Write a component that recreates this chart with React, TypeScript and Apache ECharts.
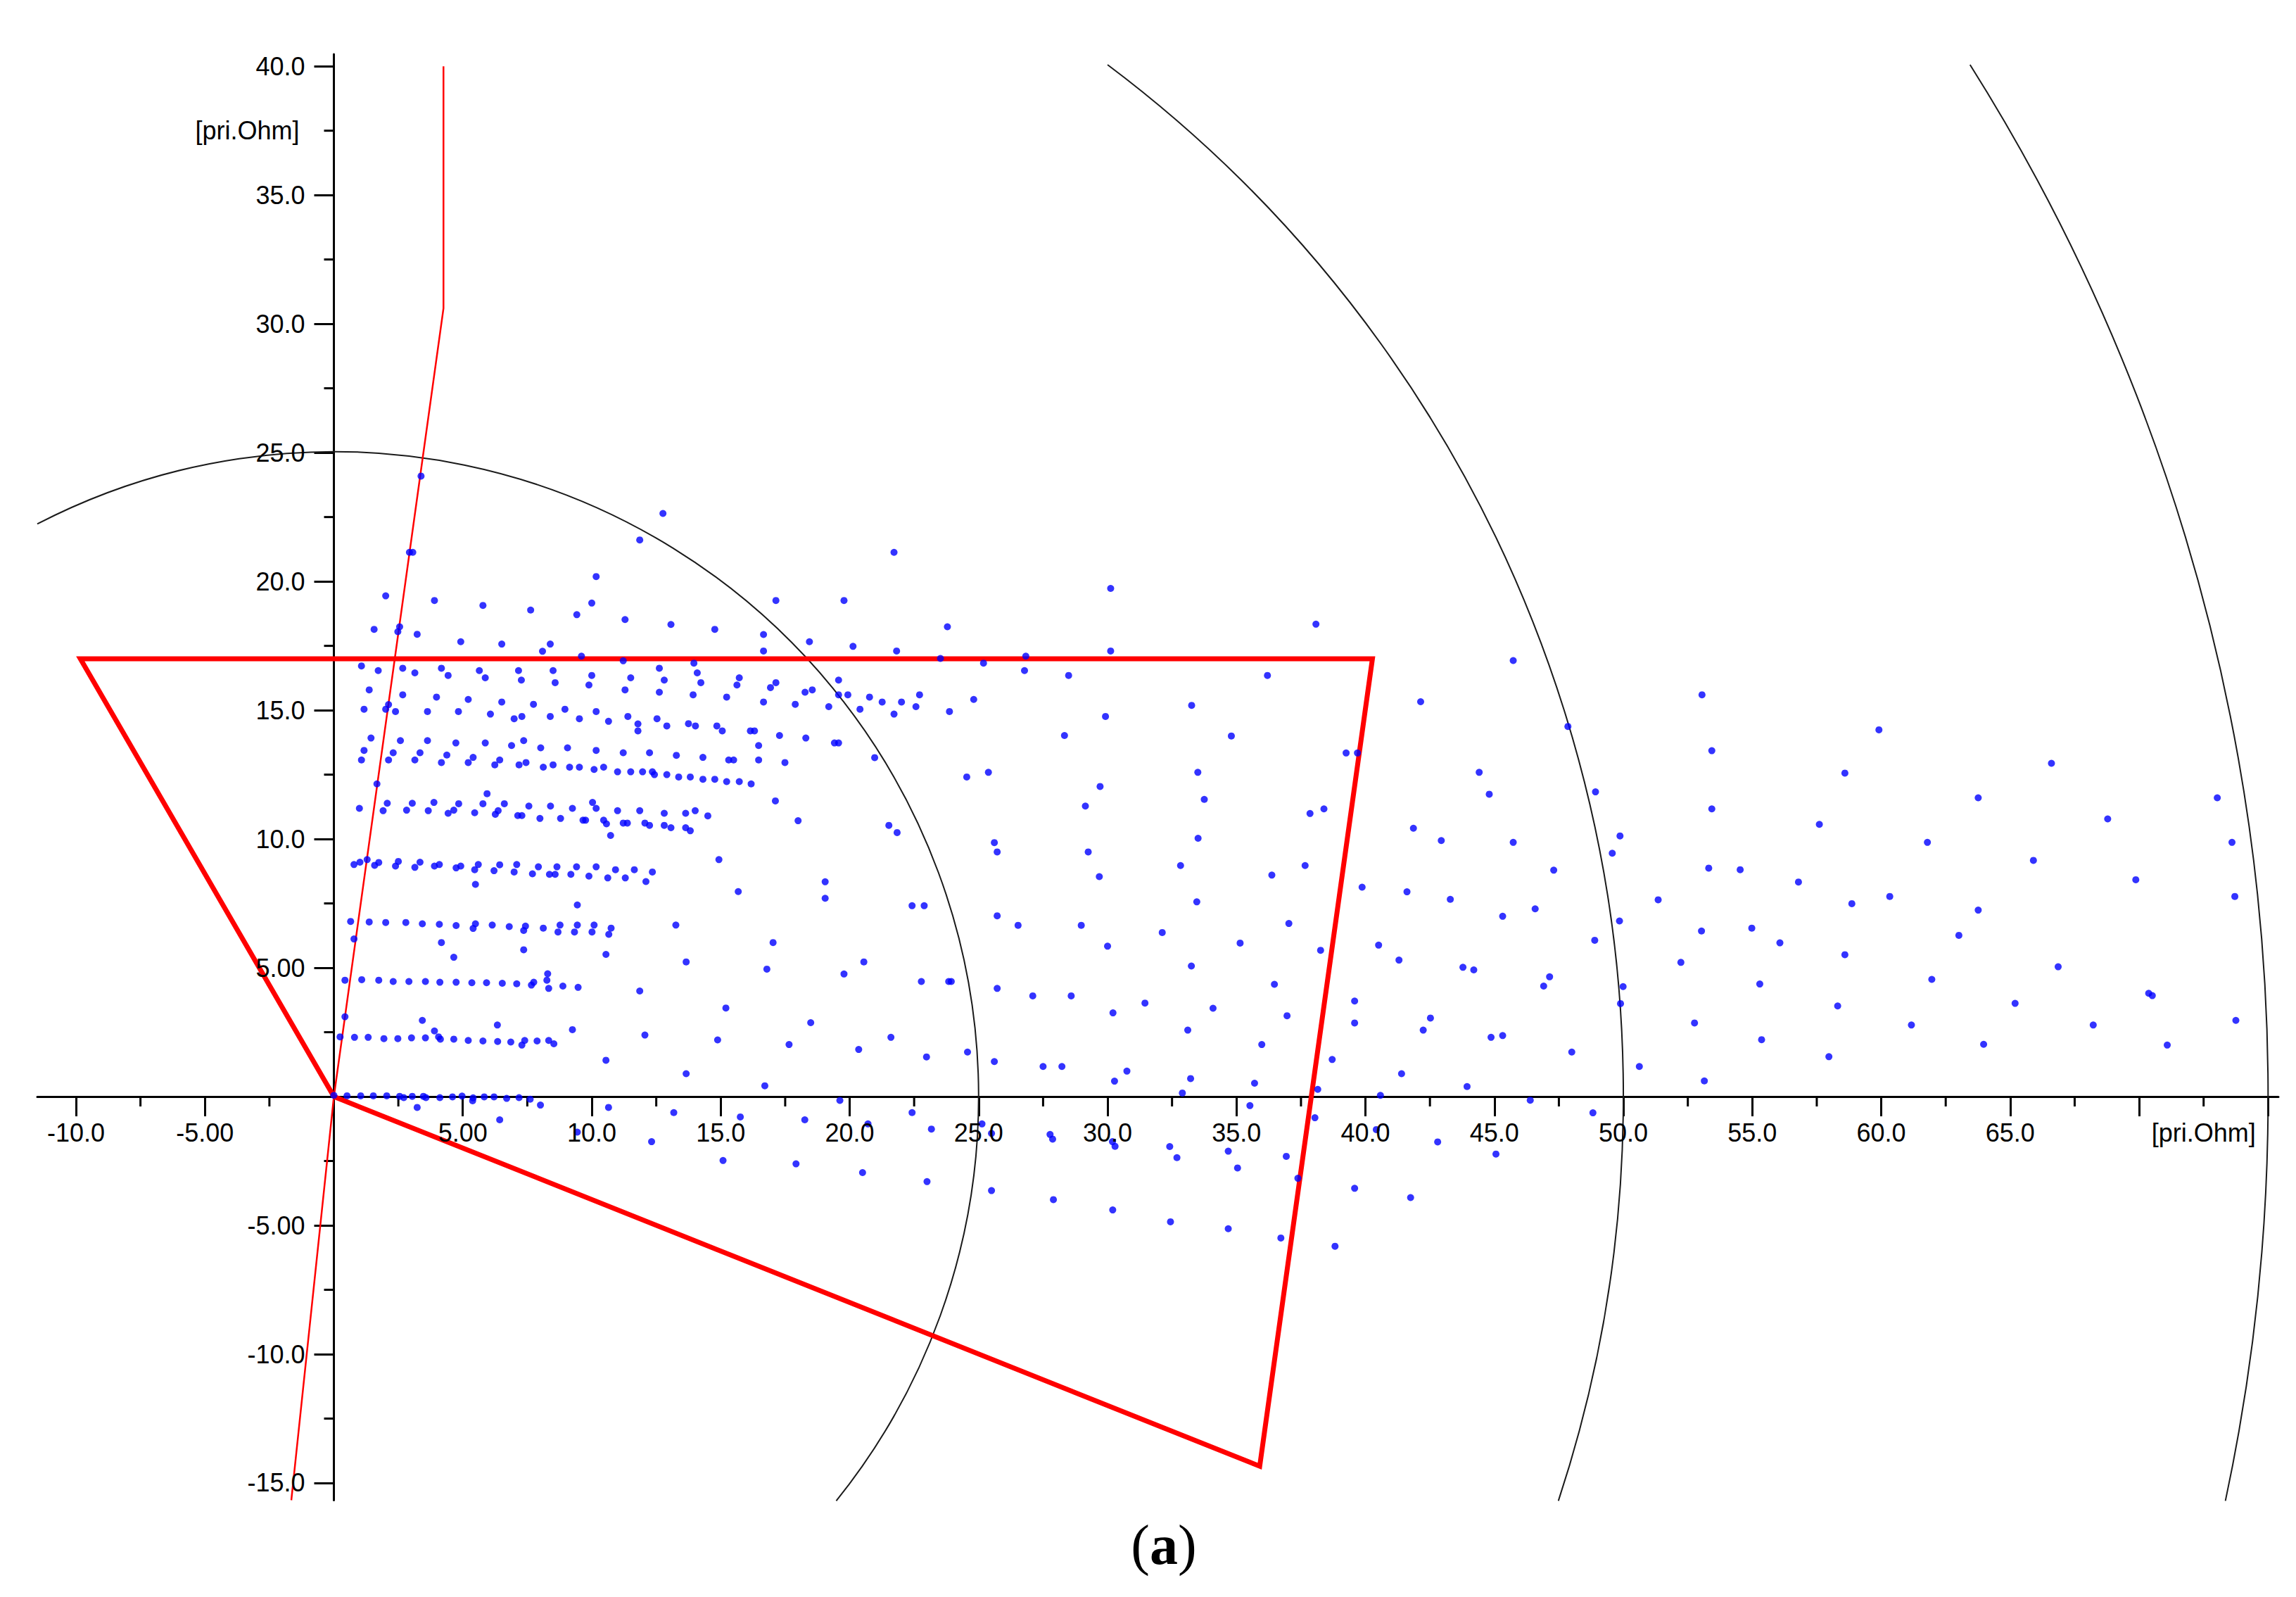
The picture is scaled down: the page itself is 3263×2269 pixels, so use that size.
import React, { useEffect, useRef } from "react";
import * as echarts from "echarts";

// ---- axis ticks / labels ----
const xMajorTicks = [-10, -5, 5, 10, 15, 20, 25, 30, 35, 40, 45, 50, 55, 60, 65, 70, 75];
const xMinorTicks = [-7.5, -2.5, 2.5, 7.5, 12.5, 17.5, 22.5, 27.5, 32.5, 37.5, 42.5, 47.5, 52.5, 57.5, 62.5, 67.5, 72.5];
const xLabelValues = [-10, -5, 5, 10, 15, 20, 25, 30, 35, 40, 45, 50, 55, 60, 65, 72.5];
const yMajorTicks = [-15, -10, -5, 5, 10, 15, 20, 25, 30, 35, 40];
const yMinorTicks = [-12.5, -7.5, -2.5, 2.5, 7.5, 12.5, 17.5, 22.5, 27.5, 32.5, 37.5];
const yLabelValues = [-15, -10, -5, 5, 10, 15, 20, 25, 30, 35, 37.5, 40];
const unitLabel = "[pri.Ohm]";
const captionText = "a";

// ---- characteristic shapes ----
const circleRadii = [25, 50, 75];
const zonePolygon = [[0, 0], [-9.83, 17.0], [40.27, 17.0], [35.9, -14.35], [0, 0]];
const loadLine = [[-1.65, -15.67], [0, 0], [4.25, 30.6], [4.25, 40.0]];

// ---- measured impedance points (R, X) ----
const rowZero = [[0.0,0.05],[0.51,0.03],[1.04,0.03],[1.53,0.03],[2.05,0.03],[2.55,0.01],[2.71,-0.04],[3.04,0.01],[3.47,0.01],[3.57,-0.04],[4.11,-0.04],[4.6,-0.01],[4.97,0.02],[5.4,-0.05],[5.38,-0.16],[5.83,-0.01],[6.21,-0.01],[6.7,-0.07],[7.18,-0.04],[7.61,-0.1],[8.01,-0.33],[3.23,-0.42],[6.43,-0.9]];
const rowTwo = [[0.24,2.32],[0.8,2.3],[1.33,2.3],[1.94,2.25],[2.48,2.25],[3.01,2.28],[3.55,2.28],[3.9,2.55],[4.06,2.32],[4.13,2.23],[4.65,2.23],[5.21,2.18],[5.78,2.16],[6.35,2.14],[6.86,2.12],[7.29,2.0],[7.4,2.18],[7.88,2.16],[8.33,2.18],[8.53,2.05],[0.43,3.1],[3.43,2.96],[6.34,2.78],[9.25,2.6]];
const rowFour = [[0.43,4.52],[1.08,4.54],[1.74,4.52],[2.3,4.47],[2.91,4.47],[3.55,4.47],[4.11,4.44],[4.74,4.44],[5.35,4.42],[5.92,4.42],[6.53,4.4],[7.09,4.38],[7.66,4.33],[7.75,4.44],[8.29,4.77],[8.26,4.52],[8.33,4.2],[8.88,4.29],[9.47,4.24]];
const rowSeven = [[0.65,6.8],[1.37,6.78],[2.01,6.76],[2.79,6.76],[3.43,6.71],[4.09,6.69],[4.74,6.64],[5.49,6.71],[5.4,6.53],[6.14,6.66],[6.8,6.6],[7.43,6.62],[7.36,6.45],[8.12,6.54],[8.77,6.66],[8.69,6.39],[9.44,6.66],[9.33,6.39],[10.09,6.66],[10.01,6.39],[10.75,6.54],[10.66,6.3],[0.78,6.12],[4.17,5.98],[4.65,5.41],[7.36,5.7],[10.55,5.52]];
const rowNine = [[0.78,9.01],[1.01,9.1],[1.29,9.2],[1.58,8.98],[1.74,9.09],[2.39,8.95],[2.5,9.13],[3.14,8.9],[3.34,9.1],[3.9,8.95],[4.09,9.01],[4.74,8.88],[4.92,8.95],[5.46,8.81],[5.6,9.01],[5.49,8.24],[6.21,8.77],[6.43,9.0],[6.99,8.72],[7.09,9.01],[7.7,8.65],[7.93,8.92],[8.36,8.63],[8.58,8.63],[8.65,8.92],[9.19,8.63],[9.41,8.92],[9.89,8.56],[10.17,8.92],[10.62,8.49],[10.92,8.81],[11.3,8.49],[11.65,8.81],[12.1,8.35],[12.35,8.72],[9.44,7.44]];
const rowEleven = [[0.99,11.19],[1.91,11.1],[2.07,11.39],[2.82,11.12],[3.04,11.39],[3.66,11.1],[3.88,11.42],[4.43,11.0],[4.65,11.12],[4.84,11.37],[5.46,11.02],[5.78,11.37],[6.26,10.96],[6.37,11.1],[6.61,11.37],[7.13,10.91],[7.29,10.91],[7.56,11.28],[7.99,10.8],[8.4,11.28],[8.79,10.8],[9.25,11.19],[9.66,10.73],[9.76,10.73],[10.03,11.42],[10.17,11.19],[10.46,10.73],[10.57,10.59],[10.73,10.14],[11.0,11.1],[11.22,10.62],[11.38,10.62],[11.86,11.1],[12.06,10.62],[12.24,10.53],[12.81,11.0],[12.81,10.53],[13.07,10.44],[13.64,11.0],[14.01,11.1],[13.64,10.44],[13.82,10.32],[14.5,10.9]];
const rowThirteen = [[1.67,12.14],[5.94,11.76],[1.44,13.92],[1.17,13.44],[1.07,13.07],[2.58,13.82],[2.3,13.35],[2.12,13.07],[3.63,13.82],[3.34,13.35],[3.14,13.07],[4.73,13.73],[4.38,13.26],[4.17,12.97],[5.87,13.73],[5.4,13.17],[5.21,12.97],[6.89,13.63],[7.36,13.82],[6.43,13.07],[6.24,12.88],[7.18,12.88],[7.45,12.97],[8.02,13.54],[8.12,12.79],[8.5,12.88],[9.06,13.54],[9.14,12.79],[9.52,12.79],[10.17,13.44],[10.09,12.7],[10.46,12.79],[11.22,13.35],[11.0,12.61],[11.51,12.61],[11.97,12.61],[12.35,12.61],[12.43,12.5],[12.24,13.35],[12.91,12.5],[13.28,13.25],[13.37,12.41],[13.82,12.41],[14.31,13.17],[14.31,12.32],[14.77,12.32],[15.23,12.23],[15.31,13.07],[15.72,12.23],[16.18,12.14]];
const upperNear = [[3.38,24.09],[12.76,22.64],[11.86,21.61],[2.93,21.13],[3.06,21.13],[10.17,20.19],[2.01,19.44],[3.9,19.26],[5.78,19.07],[7.63,18.89],[9.42,18.71],[10.0,19.16],[11.29,18.52],[13.07,18.33],[14.77,18.14],[1.56,18.14],[2.55,18.24],[2.48,18.05],[3.23,17.95],[4.92,17.66],[6.51,17.57],[8.39,17.57],[8.09,17.29],[9.6,17.1],[11.22,16.92],[13.96,16.83],[1.07,16.72],[1.72,16.54],[2.67,16.63],[3.14,16.45],[4.17,16.63],[4.43,16.35],[5.64,16.54],[5.87,16.26],[7.16,16.54],[7.27,16.17],[8.5,16.54],[8.58,16.07],[10.0,16.35],[9.89,15.98],[11.51,16.26],[11.29,15.79],[12.62,16.63],[12.81,16.17],[12.62,15.7],[14.09,16.45],[14.23,16.07],[13.93,15.6],[15.23,15.51],[1.37,15.79],[2.67,15.6],[1.17,15.04],[2.12,15.22],[2.01,15.04],[2.39,14.95],[3.63,14.95],[3.98,15.51],[4.83,14.95],[5.21,15.42],[6.07,14.85],[6.51,15.32],[6.99,14.67],[7.29,14.76],[7.74,15.23],[8.39,14.76],[8.96,15.04],[9.52,14.67],[10.17,14.95],[10.65,14.57],[11.4,14.76],[11.79,14.47],[11.79,14.2],[12.53,14.67],[12.91,14.39],[13.75,14.48],[14.02,14.39],[14.85,14.39],[15.06,14.2]];
const lowerNear = [[14.93,9.2],[13.26,6.66],[13.66,5.23],[11.86,4.1],[15.2,3.44],[12.06,2.39],[14.88,2.2],[10.55,1.41],[13.66,0.89],[10.65,-0.42],[13.18,-0.62],[12.32,-1.75],[15.09,-2.48],[9.44,-1.38]];
const upperMid = [[21.72,21.13],[30.12,19.73],[17.14,19.26],[19.78,19.26],[23.79,18.24],[16.66,17.94],[16.66,17.3],[18.44,17.66],[20.13,17.48],[21.82,17.3],[23.52,17.01],[25.19,16.83],[26.83,17.1],[26.78,16.54],[30.12,17.3],[28.49,16.35],[15.72,16.26],[15.63,15.98],[17.14,16.07],[16.93,15.88],[18.27,15.7],[18.55,15.79],[19.57,16.17],[19.57,15.6],[19.93,15.6],[16.66,15.32],[17.89,15.23],[19.19,15.14],[20.4,15.04],[20.77,15.51],[21.26,15.32],[21.72,14.85],[22.01,15.32],[22.57,15.14],[22.71,15.6],[23.87,14.95],[24.81,15.42],[29.92,14.76],[28.33,14.02],[16.15,14.2],[16.31,14.2],[17.28,14.02],[18.3,13.92],[19.41,13.73],[19.57,13.73],[16.47,13.63],[15.5,13.07],[16.47,13.07],[17.49,12.97],[20.97,13.16],[24.54,12.41],[25.38,12.59],[29.71,12.04],[17.12,11.48]];
const lowerMid = [[18.0,10.71],[21.52,10.53],[21.84,10.25],[25.61,9.86],[25.72,9.5],[29.14,11.28],[29.25,9.5],[29.68,8.54],[15.68,7.96],[19.05,8.34],[19.05,7.7],[22.42,7.41],[22.89,7.41],[25.72,7.02],[26.53,6.65],[28.98,6.65],[32.12,6.37],[30.0,5.84],[17.03,5.98],[16.79,4.95],[19.78,4.76],[20.55,5.23],[22.78,4.47],[23.84,4.47],[23.94,4.47],[25.72,4.2],[27.1,3.91],[28.59,3.91],[30.21,3.25],[31.45,3.63],[18.49,2.87],[17.65,2.02],[20.35,1.83],[21.6,2.3],[22.98,1.54],[24.57,1.73],[25.61,1.36],[27.5,1.17],[28.23,1.17],[30.75,0.99],[30.27,0.6],[16.71,0.42],[19.62,-0.15],[15.76,-0.79],[18.26,-0.9],[20.71,-1.06],[22.42,-0.62],[23.17,-1.26],[25.13,-1.06],[25.5,-1.43],[27.77,-1.47],[27.87,-1.65],[30.19,-1.75],[30.29,-1.93],[17.92,-2.61],[20.5,-2.95],[23.0,-3.3],[25.5,-3.65],[27.9,-4.0],[30.2,-4.4]];
const upperFar = [[38.08,18.34],[36.2,16.35],[45.73,16.93],[33.26,15.19],[42.14,15.33],[53.05,15.6],[34.8,14.0],[47.85,14.37],[39.25,13.34],[39.69,13.34],[53.43,13.43],[33.5,12.59],[44.41,12.59],[33.75,11.54],[38.39,11.17],[37.85,10.99],[44.8,11.74],[48.92,11.83],[53.43,11.17],[33.51,10.03],[41.86,10.42],[42.94,9.94],[45.73,9.87],[49.87,10.12]];
const lowerFar = [[49.57,9.45],[32.83,8.97],[37.66,8.97],[36.37,8.6],[47.3,8.79],[53.31,8.87],[33.46,7.56],[39.87,8.13],[41.61,7.95],[43.29,7.66],[51.35,7.64],[46.58,7.29],[45.32,7.0],[49.85,6.82],[53.03,6.43],[37.03,6.72],[35.14,5.96],[40.51,5.88],[38.26,5.68],[48.89,6.07],[33.25,5.07],[41.3,5.3],[43.78,5.02],[44.2,4.92],[47.14,4.65],[46.91,4.29],[52.23,5.21],[49.99,4.27],[36.47,4.36],[34.09,3.43],[39.58,3.71],[36.96,3.14],[49.89,3.61],[33.11,2.58],[42.24,2.58],[42.52,3.05],[39.58,2.86],[35.98,2.02],[44.87,2.3],[45.32,2.37],[52.76,2.86],[48.0,1.73],[38.71,1.44],[41.4,0.89],[50.62,1.17],[33.22,0.7],[35.7,0.52],[53.14,0.61],[38.15,0.28],[43.94,0.39],[32.9,0.14],[40.58,0.05],[35.52,-0.35],[46.39,-0.14],[48.82,-0.63],[38.04,-0.82],[40.42,-1.28],[42.8,-1.76],[32.41,-1.94],[32.69,-2.37],[34.68,-2.12],[35.04,-2.77],[36.93,-2.32],[37.38,-3.17],[45.06,-2.23],[39.58,-3.56],[41.75,-3.92],[32.44,-4.86],[34.68,-5.13],[36.72,-5.49],[38.82,-5.81]];
const outerUpper = [[59.91,14.24],[58.59,12.56],[66.6,12.94],[63.76,11.6],[73.03,11.6],[57.6,10.57],[68.78,10.78],[61.79,9.87],[73.6,9.87]];
const outerLower = [[54.53,8.81],[56.79,8.33],[58.86,7.49],[60.33,7.77],[63.76,7.24],[65.9,9.17],[69.87,8.42],[73.71,7.77],[54.98,6.54],[56.07,5.97],[63.01,6.26],[58.59,5.51],[66.86,5.04],[61.96,4.55],[55.29,4.37],[70.37,4.01],[70.51,3.92],[65.19,3.62],[58.31,3.52],[61.17,2.78],[68.22,2.78],[73.75,2.96],[55.36,2.21],[63.97,2.03],[71.09,2.0],[57.97,1.55]];

const allPoints = [
  ...rowZero, ...rowTwo, ...rowFour, ...rowSeven, ...rowNine, ...rowEleven, ...rowThirteen,
  ...upperNear, ...lowerNear, ...upperMid, ...lowerMid, ...upperFar, ...lowerFar, ...outerUpper, ...outerLower,
];

const X_MIN = -11.5, X_MAX = 75.4, Y_MIN = -15.67, Y_MAX = 40.47;
const ARC_TOP = 40.0;
const FONT = "Liberation Sans";

function fmt(v: number): string {
  if (v === 72.5 || v === 37.5) return unitLabel;
  return Math.abs(v) < 10 ? v.toFixed(2) : v.toFixed(1);
}

export default function App() {
  const ref = useRef<HTMLDivElement>(null);
  useEffect(() => {
    if (!ref.current) return;
    const chart = echarts.init(ref.current, null, { renderer: "svg" });
    const tickStyle = { color: "#000", width: 3 };

    const option: any = {
      animation: false,
      backgroundColor: "#fff",
      grid: { left: 53, right: 25, top: 77, bottom: 137.5, containLabel: false, outerBoundsMode: "none" },
      xAxis: {
        type: "value", min: X_MIN, max: X_MAX,
        axisLine: { show: true, onZero: true, lineStyle: tickStyle },
        axisTick: { show: true, customValues: xMajorTicks, length: 28, inside: false, lineStyle: tickStyle },
        axisLabel: { show: false },
        splitLine: { show: false },
      },
      yAxis: {
        type: "value", min: Y_MIN, max: Y_MAX,
        axisLine: { show: true, onZero: true, lineStyle: tickStyle },
        axisTick: { show: true, customValues: yMajorTicks, length: 28, inside: false, lineStyle: tickStyle },
        axisLabel: { show: false },
        splitLine: { show: false },
      },
      graphic: [
        {
          type: "text", x: 1654, y: 2195,
          style: {
            text: "{p|(}{b|" + captionText + "}{p|)}",
            align: "center", verticalAlign: "middle",
            rich: {
              p: { fontFamily: "Liberation Serif", fontSize: 80, fill: "#000" },
              b: { fontFamily: "Liberation Serif", fontSize: 80, fontWeight: "bold", fill: "#000" },
            },
          },
        },
      ],
      series: [
        {
          type: "custom", name: "circles", silent: true, z: 1,
          data: circleRadii.map((r) => [0, 0, r]),
          renderItem: (params: any, api: any) => {
            const r = api.value(2);
            const c = api.coord([0, 0]);
            const rp = api.size([r, 0])[0];
            let hi = Math.PI;
            if (r > ARC_TOP) hi = Math.min(hi, Math.asin(ARC_TOP / r));
            if (r > -X_MIN) hi = Math.min(hi, Math.acos(X_MIN / r));
            const lo = r > -Y_MIN ? -Math.asin(-Y_MIN / r) : -Math.PI / 2;
            return {
              type: "arc",
              shape: { cx: c[0], cy: c[1], r: rp, startAngle: -hi, endAngle: -lo, clockwise: true },
              style: { stroke: "#1a1a1a", lineWidth: 2, fill: "none" },
            };
          },
        },
        {
          type: "custom", name: "xMinor", silent: true, z: 1,
          data: xMinorTicks.map((v) => [v, 0]),
          renderItem: (params: any, api: any) => {
            const p = api.coord([api.value(0), 0]);
            return { type: "line", shape: { x1: p[0], y1: p[1], x2: p[0], y2: p[1] + 14 }, style: { stroke: "#000", lineWidth: 3 } };
          },
        },
        {
          type: "custom", name: "yMinor", silent: true, z: 1,
          data: yMinorTicks.map((v) => [0, v]),
          renderItem: (params: any, api: any) => {
            const p = api.coord([0, api.value(1)]);
            return { type: "line", shape: { x1: p[0], y1: p[1], x2: p[0] - 14, y2: p[1] }, style: { stroke: "#000", lineWidth: 3 } };
          },
        },
        {
          type: "custom", name: "xLabels", silent: true, z: 5,
          data: xLabelValues.map((v) => [v, 0]),
          renderItem: (params: any, api: any) => {
            const v = api.value(0);
            const p = api.coord([v, 0]);
            return {
              type: "text", x: p[0], y: p[1] + 51,
              style: { text: fmt(v), align: "center", verticalAlign: "middle", fontSize: 36, fontFamily: FONT, fill: "#000" },
            };
          },
        },
        {
          type: "custom", name: "yLabels", silent: true, z: 5,
          data: yLabelValues.map((v) => [0, v]),
          renderItem: (params: any, api: any) => {
            const v = api.value(1);
            const p = api.coord([0, v]);
            const gap = fmt(v) === unitLabel ? 49 : 41;
            return {
              type: "text", x: p[0] - gap, y: p[1],
              style: { text: fmt(v), align: "right", verticalAlign: "middle", fontSize: 36, fontFamily: FONT, fill: "#000" },
            };
          },
        },
        {
          type: "line", name: "load", data: loadLine, showSymbol: false, symbol: "none", silent: true, z: 3,
          lineStyle: { color: "#ff0000", width: 2.5 },
        },
        {
          type: "line", name: "zone", data: zonePolygon, showSymbol: false, symbol: "none", silent: true, z: 3,
          lineStyle: { color: "#ff0000", width: 7, join: "miter" },
        },
        {
          type: "scatter", name: "points", data: allPoints, symbol: "circle", symbolSize: 10, silent: true, z: 4,
          itemStyle: { color: "#0000ff" },
        },
      ],
    };
    chart.setOption(option);
    return () => chart.dispose();
  }, []);
  return <div ref={ref} style={{ position: "fixed", left: 0, top: 0, width: 3263, height: 2269, background: "#fff" }} />;
}
